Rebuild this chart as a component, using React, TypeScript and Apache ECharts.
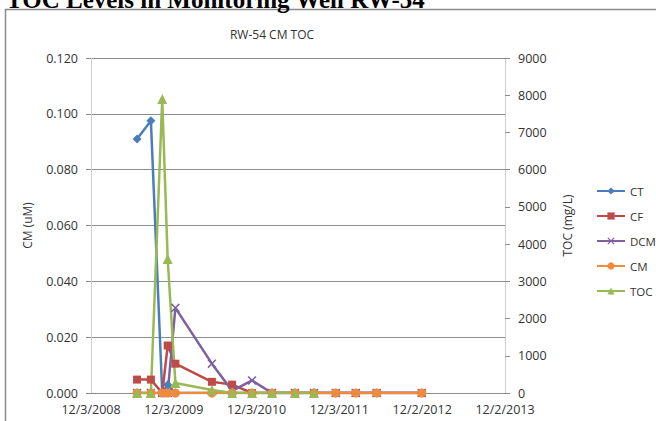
import React, { useEffect, useRef } from "react";
import * as echarts from "echarts";

// Sampling dates (M/D/YYYY)
const sampleDates = [
  "6/24/2009", "8/24/2009", "10/13/2009", "11/6/2009", "12/10/2009",
  "5/20/2010", "8/17/2010", "11/13/2010", "2/9/2011", "5/21/2011",
  "8/13/2011", "11/17/2011", "2/13/2012", "5/15/2012", "11/30/2012",
];

// Left axis series (uM)
const ctValues = [0.091, 0.0975, 0, 0.003, 0, 0, 0, 0, 0, 0, 0, 0, 0, 0, 0];
const cfValues = [0.0048, 0.0048, 0, 0.017, 0.0105, 0.004, 0.003, 0, 0, 0, 0, 0, 0, 0, 0];
const dcmValues = [0, 0, 0, 0, 0.0305, 0.0105, 0.0008, 0.0045, 0, 0, 0, 0, 0, 0, 0];
const cmValues = [0, 0, 0, 0, 0, 0, 0, 0, 0, 0, 0, 0, 0, 0, 0];
// Right axis series (mg/L)
const tocValues: (number | null)[] = [0, 0, 7900, 3600, 270, 80, 0, 0, 0, 0, 0, null, null, null, null];

const seriesNames = ["CT", "CF", "DCM", "CM", "TOC"];

// x axis: 12/3/2008 .. 12/2/2013, one tick every 365 days (Excel serial numbers)
const xMinDate = "12/3/2008";
const xMaxDate = "12/2/2013";
const xStepDays = 365;

const leftMax = 0.12;
const leftStep = 0.02;
const rightMax = 9000;
const rightStep = 1000;

const FONT = "'Open Sans', 'Noto Sans', sans-serif";

function toSerial(s: string): number {
  const [m, d, y] = s.split("/").map(Number);
  return Date.UTC(y, m - 1, d) / 86400000 + 25569;
}
function serialToLabel(v: number): string {
  const dt = new Date((v - 25569) * 86400000);
  return `${dt.getUTCMonth() + 1}/${dt.getUTCDate()}/${dt.getUTCFullYear()}`;
}
function pairs(vals: (number | null)[]) {
  const out: [number, number][] = [];
  vals.forEach((v, i) => {
    if (v !== null) out.push([toSerial(sampleDates[i]), v]);
  });
  return out;
}

const xSymbol =
  "path://M0,1.2 L1.2,0 L5,3.8 L8.8,0 L10,1.2 L6.2,5 L10,8.8 L8.8,10 L5,6.2 L1.2,10 L0,8.8 L3.8,5 Z";

export default function App() {
  const ref = useRef<HTMLDivElement>(null);
  useEffect(() => {
    const chart = echarts.init(ref.current!, null, { renderer: "svg" });
    const lw = 2.5;
    const option: any = {
      animation: false,
      backgroundColor: "#ffffff",
      title: {
        text: "RW-54 CM TOC",
        left: 267,
        top: 23,
        textAlign: "center",
        textStyle: { fontFamily: FONT, fontSize: 12, fontWeight: "normal", color: "#333" },
      },
      graphic: [
        {
          type: "text",
          left: 6,
          top: -13,
          style: {
            text: "TOC Levels in Monitoring Well RW-54",
            font: "bold 25px 'Liberation Serif', 'Times New Roman', serif",
            fill: "#000",
          },
          z: 100,
        },
        {
          type: "rect",
          shape: { x: 5.5, y: 9.5, width: 800, height: 600 },
          style: { fill: "none", stroke: "#8a8a8a", lineWidth: 1.5 },
          z: 99,
        },
      ],
      legend: {
        data: seriesNames,
        orient: "vertical",
        left: 591,
        top: 179,
        itemWidth: 28,
        itemHeight: 9,
        itemGap: 11,
        textStyle: { fontFamily: FONT, fontSize: 11.5, color: "#333", lineHeight: 14 },
      },
      grid: { left: 91, right: 151, top: 58, bottom: 28, containLabel: false },
      xAxis: {
        type: "value",
        min: toSerial(xMinDate),
        max: toSerial(xMaxDate),
        interval: xStepDays,
        splitLine: { show: false },
        axisLine: { show: true, lineStyle: { color: "#8c8c8c", width: 1 } },
        axisTick: { show: false },
        axisLabel: {
          formatter: (v: number) => serialToLabel(v),
          fontFamily: FONT,
          fontSize: 12.5,
          color: "#333",
          margin: 10,
          showMinLabel: true,
          showMaxLabel: true,
        },
      },
      yAxis: [
        {
          type: "value",
          min: 0,
          max: leftMax,
          interval: leftStep,
          name: "CM (uM)",
          nameLocation: "middle",
          nameGap: 58,
          nameRotate: 90,
          nameTextStyle: { fontFamily: FONT, fontSize: 12, color: "#333" },
          axisLine: { show: true, lineStyle: { color: "#cfcfcf", width: 1 } },
          axisTick: { show: true, inside: false, length: 5, lineStyle: { color: "#8c8c8c" } },
          splitLine: { show: true, lineStyle: { color: "#8c8c8c", width: 1 } },
          axisLabel: {
            formatter: (v: number) => v.toFixed(3),
            fontFamily: FONT,
            fontSize: 12.5,
            color: "#333",
            margin: 13,
          },
        },
        {
          type: "value",
          min: 0,
          max: rightMax,
          interval: rightStep,
          position: "right",
          name: "TOC (mg/L)",
          nameLocation: "middle",
          nameGap: 56,
          nameRotate: 90,
          nameTextStyle: { fontFamily: FONT, fontSize: 12, color: "#333" },
          axisLine: { show: true, lineStyle: { color: "#cfcfcf", width: 1 } },
          axisTick: { show: true, inside: false, length: 5, lineStyle: { color: "#8c8c8c" } },
          splitLine: { show: false },
          axisLabel: {
            formatter: (v: number) => String(v),
            fontFamily: FONT,
            fontSize: 12.5,
            color: "#333",
            margin: 13,
          },
        },
      ],
      series: [
        {
          name: "CT",
          type: "line",
          yAxisIndex: 0,
          data: pairs(ctValues),
          symbol: "diamond",
          symbolSize: 9,
          lineStyle: { width: lw, color: "#4A7EBB" },
          itemStyle: { color: "#4A7EBB" },
        },
        {
          name: "CF",
          type: "line",
          yAxisIndex: 0,
          data: pairs(cfValues),
          symbol: "rect",
          symbolSize: 8,
          lineStyle: { width: lw, color: "#BE4B48" },
          itemStyle: { color: "#BE4B48" },
        },
        {
          name: "DCM",
          type: "line",
          yAxisIndex: 0,
          data: pairs(dcmValues),
          symbol: xSymbol,
          symbolSize: 9,
          lineStyle: { width: lw, color: "#7D60A0" },
          itemStyle: { color: "#7D60A0" },
        },
        {
          name: "CM",
          type: "line",
          yAxisIndex: 0,
          data: pairs(cmValues),
          symbol: "circle",
          symbolSize: 9,
          lineStyle: { width: lw, color: "#F08A3C" },
          itemStyle: { color: "#F08A3C" },
        },
        {
          name: "TOC",
          type: "line",
          yAxisIndex: 1,
          data: pairs(tocValues),
          symbol: "triangle",
          symbolSize: 10,
          lineStyle: { width: lw, color: "#98B954" },
          itemStyle: { color: "#98B954" },
        },
      ],
    };
    chart.setOption(option);
    return () => chart.dispose();
  }, []);
  return (
    <div
      ref={ref}
      style={{ position: "fixed", left: 0, top: 0, width: 656, height: 421, background: "#fff" }}
    />
  );
}
